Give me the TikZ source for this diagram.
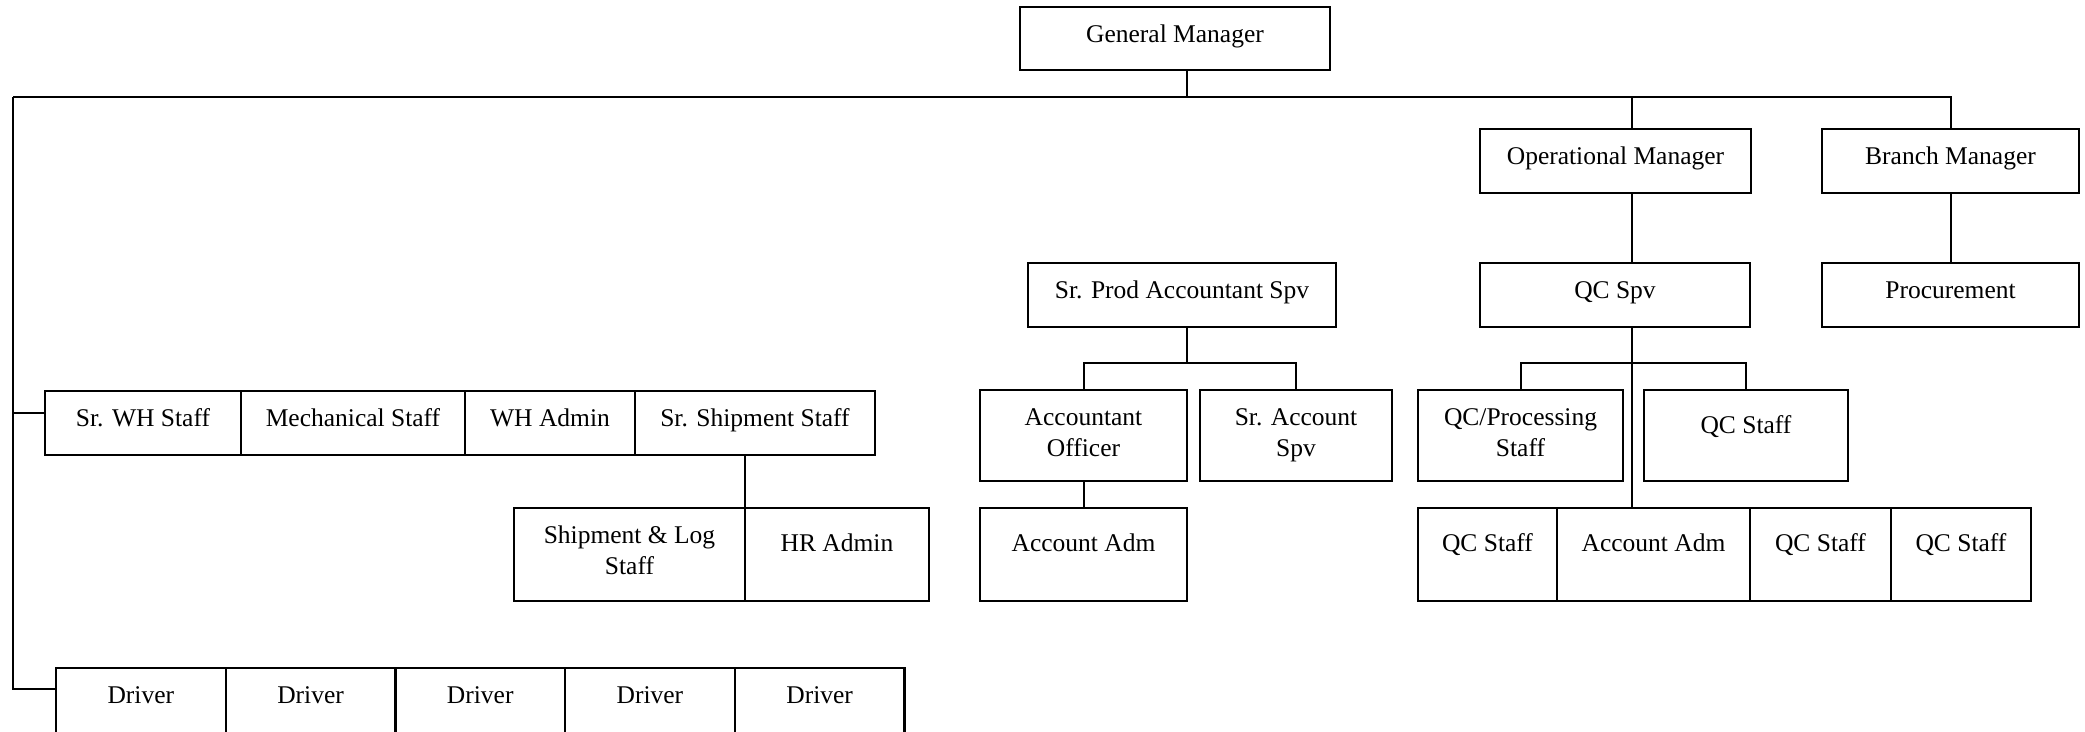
\documentclass[tikz,border=0pt]{standalone}
\usepackage{fontspec}
\setmainfont{Liberation Serif}
\usepackage{tikz}
\usetikzlibrary{calc, positioning}

\newcommand{\cell}[4][35pt]{\parbox[c][#3][t]{#2}{\centering\fontsize{25.5}{31}\selectfont\rule{0pt}{#1}#4}}

\tikzset{
	post/.style={draw, line width=2.4pt, inner sep=0pt, outer sep=0pt, anchor=north west},
	link/.style={line width=2pt},
}

\begin{document}
\begin{tikzpicture}[x=1pt, y=-1pt]
					\useasboundingbox (0,0) rectangle (2085,731);

					\begin{scope}
						\node[post] (gm) at (1020,7) {\cell{310pt}{63pt}{General Manager}};
						\node[post] (opm) at (1480,129) {\cell{271pt}{64pt}{Operational Manager}};
						\node[post] (brm) at (1822,129) {\cell{257pt}{64pt}{Branch Manager}};
						\node[post] (srprod) at (1028,263) {\cell{308pt}{64pt}{Sr. Prod Accountant Spv}};
						\node[post] (qcspv) at (1480,263) {\cell{270pt}{64pt}{QC Spv}};
						\node[post] (proc) at (1822,263) {\cell{257pt}{64pt}{Procurement}};
					\end{scope}

					\begin{scope}
						\node[post] (srwh) at (45,391) {\cell{196pt}{64pt}{Sr. WH Staff}};
						\node[post] (mech) at (srwh.north east) {\cell{224pt}{64pt}{Mechanical Staff}};
						\node[post] (whadm) at (mech.north east) {\cell{170pt}{64pt}{WH Admin}};
						\node[post] (srship) at (whadm.north east) {\cell{240pt}{64pt}{Sr. Shipment Staff}};
						\node[post] (shiplog) at (514,508) {\cell{231pt}{93pt}{Shipment \& Log\\Staff}};
						\node[post] (hradm) at (shiplog.north east) {\cell[43pt]{184pt}{93pt}{HR Admin}};

						\foreach \i in {1,...,5}
						{
							\node[post] (drv\i) at ({56+(\i-1)*169.7},668) {\cell{169.7pt}{93pt}{Driver}};
						}
					\end{scope}

					\begin{scope}
						\node[post] (accoff) at (980,390) {\cell{207pt}{91pt}{Accountant\\Officer}};
						\node[post] (sracc) at (1200,390) {\cell{192pt}{91pt}{Sr. Account\\Spv}};
						\node[post] (accadm) at (980,508) {\cell[43pt]{207pt}{93pt}{Account Adm}};
						\node[post] (qcproc) at (1418,390) {\cell{205pt}{91pt}{QC/Processing\\Staff}};
						\node[post] (qcstaff) at (1644,390) {\cell[43pt]{204pt}{91pt}{QC Staff}};
						\node[post] (qca) at (1418,508) {\cell[43pt]{139pt}{93pt}{QC Staff}};
						\node[post] (qcadm) at (qca.north east) {\cell[43pt]{193pt}{93pt}{Account Adm}};
						\node[post] (qcb) at (qcadm.north east) {\cell[43pt]{141pt}{93pt}{QC Staff}};
						\node[post] (qcc) at (qcb.north east) {\cell[43pt]{140pt}{93pt}{QC Staff}};
					\end{scope}

					\begin{scope}[link]
						\coordinate (gmx) at (1187,97);
						\coordinate (left) at (13,97);
						\coordinate (whstub) at (13,413);
						\coordinate (drvstub) at (13,689);
						\coordinate (opx) at (1632,97);
						\coordinate (acbus) at (1187,363);
						\coordinate (qcbus) at (1632,363);

						\draw (gm.south -| gmx) -- (gmx);
						\draw (left) -- (brm.north |- left) -- (brm.north);
						\draw (left) -- (drvstub) -- (drvstub -| drv1.west);
						\draw (whstub) -- (whstub -| srwh.west);
						\draw (opx) -- (opx |- opm.north);
						\draw (opx |- opm.south) -- (opx |- qcspv.north);
						\draw (opx |- qcspv.south) -- (opx |- qcadm.north);
						\draw (brm) -- (proc);
						\draw (qcproc.north) |- (qcbus) -| (qcstaff.north);
						\draw (acbus |- srprod.south) -- (acbus);
						\draw (accoff.north) |- (acbus) -| (sracc.north);
						\draw (accoff) -- (accadm);
						\draw (srship.south -| shiplog.north east) -- (shiplog.north east);
					\end{scope}
				\end{tikzpicture}
\end{document}
